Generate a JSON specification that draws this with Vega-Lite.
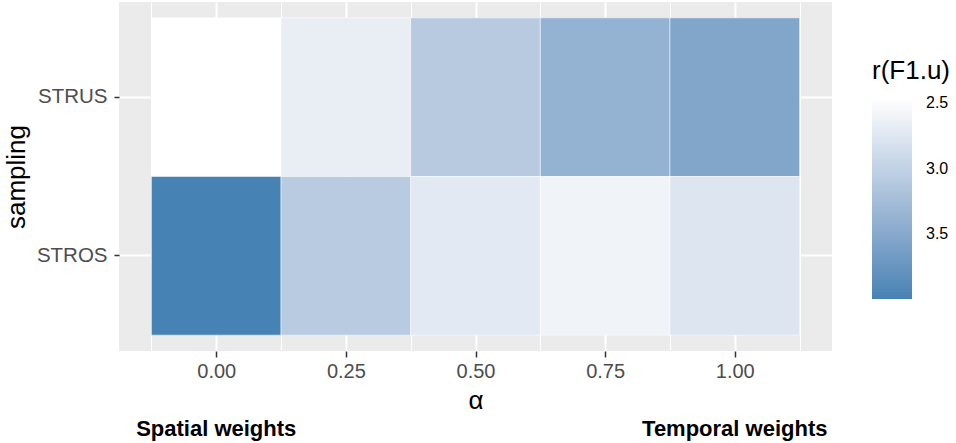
{
  "$schema": "https://vega.github.io/schema/vega-lite/v6.json",
  "width": 713,
  "height": 349,
  "autosize": {"type": "none"},
  "padding": {"left": 119, "top": 2, "right": 124, "bottom": 92},
  "background": "white",
  "config": {
    "view": {"fill": "#EBEBEB", "stroke": null},
    "font": "Liberation Sans"
  },
  "datasets": {
    "cells": [
      {"sampling": "STRUS", "alpha": 0.0, "r": 2.467},
      {"sampling": "STRUS", "alpha": 0.25, "r": 2.66},
      {"sampling": "STRUS", "alpha": 0.5, "r": 3.09},
      {"sampling": "STRUS", "alpha": 0.75, "r": 3.39},
      {"sampling": "STRUS", "alpha": 1.0, "r": 3.54},
      {"sampling": "STROS", "alpha": 0.0, "r": 4.0},
      {"sampling": "STROS", "alpha": 0.25, "r": 3.08},
      {"sampling": "STROS", "alpha": 0.5, "r": 2.72},
      {"sampling": "STROS", "alpha": 0.75, "r": 2.6},
      {"sampling": "STROS", "alpha": 1.0, "r": 2.77}
    ],
    "notes": [
      {"alpha": 0.0, "label": "Spatial weights"},
      {"alpha": 1.0, "label": "Temporal weights"}
    ]
  },
  "layer": [
    {
      "data": {"name": "cells"},
      "mark": {"type": "rect", "width": {"expr": "width / 5.5"}, "stroke": "white", "strokeWidth": 0.5, "opacity": 1, "fillOpacity": 1},
      "encoding": {
        "x": {
          "field": "alpha",
          "type": "quantitative",
          "scale": {"domain": [-0.1875, 1.1875], "nice": false, "zero": false},
          "axis": {
            "zindex": 0,
            "values": [-0.125, 0, 0.125, 0.25, 0.375, 0.5, 0.625, 0.75, 0.875, 1, 1.125],
            "labelExpr": "abs(datum.value*8) % 2 == 1 ? '' : format(datum.value, '.2f')",
            "labelFontSize": 20,
            "labelColor": "#4D4D4D",
            "labelPadding": 4,
            "labelFlush": false,
            "labelOverlap": false,
            "domain": false,
            "ticks": true,
            "tickSize": 6,
            "tickWidth": 1.5,
            "tickColor": "#333333",
            "tickOpacity": {"condition": {"test": "abs(datum.value*8) % 2 == 1", "value": 0}, "value": 1},
            "grid": true,
            "gridColor": "white",
            "gridOpacity": 1,
            "gridWidth": {"condition": {"test": "abs(datum.value*8) % 2 == 1", "value": 1}, "value": 2},
            "title": "α",
            "titleFontSize": 26,
            "titleFontWeight": "normal",
            "titleColor": "black",
            "titlePadding": 6
          }
        },
        "y": {
          "field": "sampling",
          "type": "nominal",
          "sort": ["STRUS", "STROS"],
          "scale": {"paddingInner": 0, "paddingOuter": 0.1},
          "axis": {
            "zindex": 0,
            "labelFontSize": 20.5,
            "labelColor": "#4D4D4D",
            "labelPadding": 7,
            "domain": false,
            "tickSize": 5,
            "tickWidth": 1.5,
            "tickColor": "#333333",
            "grid": true,
            "gridColor": "white",
            "gridOpacity": 1,
            "gridWidth": 2,
            "title": "sampling",
            "titleFontSize": 26,
            "titleFontWeight": "normal",
            "titleColor": "black",
            "titlePadding": 7
          }
        },
        "color": {
          "field": "r",
          "type": "quantitative",
          "scale": {"domain": [4.0, 2.467], "range": ["#4682B4", "#FFFFFF"], "interpolate": "lab"},
          "legend": {
            "title": "r(F1.u)",
            "orient": "none",
            "legendX": 753,
            "legendY": 56,
            "direction": "vertical",
            "gradientLength": 200,
            "gradientThickness": 40,
            "gradientStrokeWidth": 0,
            "values": [2.5, 3.0, 3.5],
            "format": ".1f",
            "labelFontSize": 16,
            "labelColor": "black",
            "labelOffset": 14,
            "titleFontSize": 26,
            "titleFontWeight": "normal",
            "titleColor": "black",
            "titlePadding": 15
          }
        }
      }
    },
    {
      "data": {"name": "notes"},
      "mark": {"type": "text", "fontWeight": "bold", "fontSize": 22, "baseline": "alphabetic", "align": "center", "color": "black"},
      "encoding": {
        "x": {"field": "alpha", "type": "quantitative"},
        "y": {"value": 434},
        "text": {"field": "label", "type": "nominal"}
      }
    }
  ]
}
